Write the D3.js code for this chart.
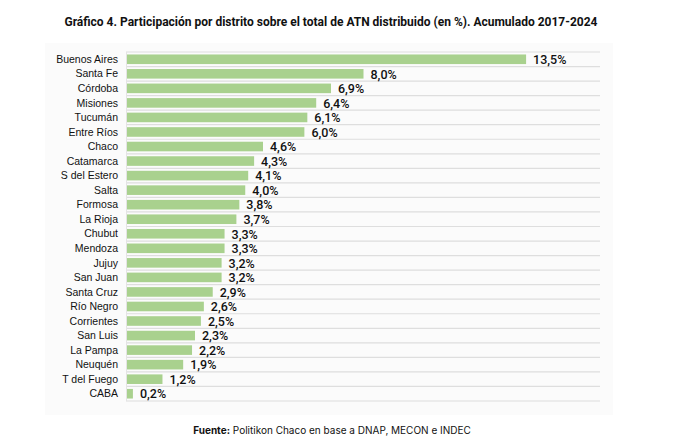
<!DOCTYPE html>
<html>
<head>
<meta charset="utf-8">
<script src="https://cdn.jsdelivr.net/npm/d3@7"></script>
<style>
  body { margin: 0; background: #fff; }
  .title { font-family: "Liberation Sans Narrow", "Arial Narrow", "Roboto", sans-serif; font-weight: bold; font-size: 12px; fill: #111; }
  .cat { font-family: "Liberation Sans", Arial, sans-serif; font-size: 10.5px; fill: #111; }
  .val { font-family: "Roboto", "Liberation Sans", sans-serif; font-weight: 500; font-size: 12.5px; fill: #111; }
  .src { font-family: "Inter", "Roboto", sans-serif; font-size: 10px; fill: #111; }
</style>
</head>
<body>
<script>
//districts, top to bottom
var districts = ["Buenos Aires", "Santa Fe", "Córdoba", "Misiones", "Tucumán", "Entre Ríos",
  "Chaco", "Catamarca", "S del Estero", "Salta", "Formosa", "La Rioja", "Chubut", "Mendoza",
  "Jujuy", "San Juan", "Santa Cruz", "Río Negro", "Corrientes", "San Luis", "La Pampa",
  "Neuquén", "T del Fuego", "CABA"];
//share of ATN (%)
var shares = [13.5, 8.0, 6.9, 6.4, 6.1, 6.0, 4.6, 4.3, 4.1, 4.0, 3.8, 3.7, 3.3, 3.3,
  3.2, 3.2, 2.9, 2.6, 2.5, 2.3, 2.2, 1.9, 1.2, 0.2];

var titleText = "Gráfico 4. Participación por distrito sobre el total de ATN distribuido (en %). Acumulado 2017-2024";

var w = 698, h = 447;
var svg = d3.select("body").append("svg")
  .attr("width", w)
  .attr("height", h);

//faint panel behind the chart
svg.append("rect")
  .attr("x", 45).attr("y", 43)
  .attr("width", 568).attr("height", 372)
  .style("fill", "#fbfbfb");

var x = d3.scaleLinear()
  .domain([0, 16])
  .range([127, 600]);

var y = d3.scaleBand()
  .domain(districts)
  .range([52, 401])
  .paddingInner(0.34)
  .paddingOuter(0.17);

var step = y.step();

//gridlines between rows
var edges = d3.range(districts.length + 1);
svg.selectAll(".grid")
  .data(edges)
  .enter()
  .append("line")
  .attr("class", "grid")
  .attr("x1", 126).attr("x2", 600)
  .attr("y1", function(i){ return 52 + i * step; })
  .attr("y2", function(i){ return 52 + i * step; })
  .style("stroke", "#dedede")
  .style("stroke-width", 1.2);

//left axis line
svg.append("line")
  .attr("x1", 126.5).attr("x2", 126.5)
  .attr("y1", 52).attr("y2", 401)
  .style("stroke", "#e4e4e4");

var rows = districts.map(function(d, i){ return {name: d, value: shares[i]}; });

svg.selectAll(".bar")
  .data(rows)
  .enter()
  .append("rect")
  .attr("class", "bar")
  .attr("x", x(0))
  .attr("y", function(d){ return y(d.name); })
  .attr("width", function(d){ return x(d.value) - x(0); })
  .attr("height", y.bandwidth())
  .style("fill", "#a9d18e");

//category labels
svg.selectAll(".cat")
  .data(rows)
  .enter()
  .append("text")
  .attr("class", "cat")
  .attr("text-anchor", "end")
  .attr("x", 118)
  .attr("y", function(d){ return y(d.name) + y.bandwidth() / 2; })
  .attr("dy", "0.35em")
  .text(function(d){ return d.name; });

//value labels
var fmt = function(v){ return v.toFixed(1).replace(".", ",") + "%"; };
svg.selectAll(".val")
  .data(rows)
  .enter()
  .append("text")
  .attr("class", "val")
  .attr("x", function(d){ return x(d.value) + 7; })
  .attr("y", function(d){ return y(d.name) + y.bandwidth() / 2; })
  .attr("dy", "0.38em")
  .text(function(d){ return fmt(d.value); });

svg.append("text")
  .attr("class", "title")
  .attr("text-anchor", "middle")
  .attr("x", 331)
  .attr("y", 26)
  .text(titleText);

var src = svg.append("text")
  .attr("class", "src")
  .attr("text-anchor", "middle")
  .attr("x", 332)
  .attr("y", 434);
src.append("tspan").style("font-weight", "bold").text("Fuente:");
src.append("tspan").text(" Politikon Chaco en base a DNAP, MECON e INDEC");
</script>
</body>
</html>
